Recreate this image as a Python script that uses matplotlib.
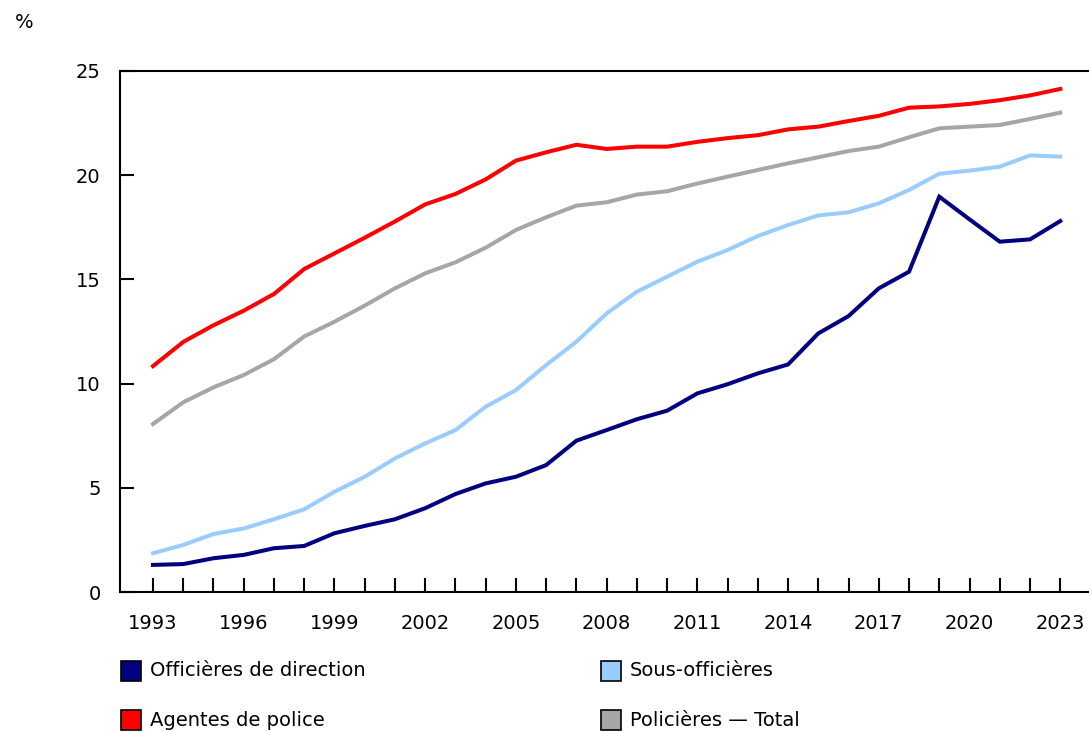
import matplotlib
matplotlib.use("Agg")
import matplotlib.pyplot as plt
from matplotlib.patches import Rectangle

years = list(range(1993, 2024))

officieres = [1.30, 1.34, 1.62, 1.78, 2.10, 2.21, 2.82, 3.17, 3.49, 4.02,
              4.70, 5.21, 5.53, 6.09, 7.26, 7.77, 8.29, 8.70, 9.53, 9.97,
              10.49, 10.92, 12.41, 13.24, 14.57, 15.37, 18.97, 17.88, 16.81, 16.92, 17.80]
sous_officieres = [1.86, 2.26, 2.78, 3.05, 3.49, 3.97, 4.81, 5.53, 6.41, 7.13,
                   7.77, 8.89, 9.69, 10.89, 12.01, 13.37, 14.41, 15.13, 15.85, 16.41,
                   17.08, 17.61, 18.07, 18.22, 18.65, 19.29, 20.07, 20.22, 20.41, 20.95, 20.89]
agentes = [10.84, 12.00, 12.80, 13.50, 14.30, 15.50, 16.25, 17.00, 17.78, 18.60,
           19.10, 19.80, 20.70, 21.10, 21.46, 21.26, 21.37, 21.37, 21.60, 21.78,
           21.92, 22.20, 22.33, 22.60, 22.85, 23.24, 23.30, 23.42, 23.60, 23.83, 24.14]
total = [8.06, 9.10, 9.82, 10.41, 11.17, 12.26, 12.97, 13.74, 14.57, 15.29,
         15.82, 16.52, 17.37, 17.98, 18.54, 18.70, 19.07, 19.23, 19.60, 19.93,
         20.25, 20.57, 20.86, 21.16, 21.37, 21.82, 22.25, 22.33, 22.41, 22.70, 23.00]

series_names = ["Officières de direction", "Sous-officières",
                "Agentes de police", "Policières — Total"]
series_values = [officieres, sous_officieres, agentes, total]
colors = ["#000080", "#99CCFF", "#FF0000", "#A6A6A6"]

y_ticks = [0, 5, 10, 15, 20, 25]
x_label_years = list(range(1993, 2024, 3))

plt.rcParams['font.family'] = ['DejaVu Sans']
FS = 14

fig = plt.figure(figsize=(10.89, 7.32), dpi=100)
ax = fig.add_axes([120/1089, 1-592/732, 1-120/1089, (592-71)/732])

for name, vals, c in zip(series_names, series_values, colors):
    ax.plot(years, vals, color=c, lw=2.9, solid_joinstyle='miter', label=name)

ax.set_xlim(1991.91, 2023.95)
ax.set_ylim(0, 25)
ax.set_yticks(y_ticks)
ax.set_yticklabels([str(v) for v in y_ticks])
ax.set_xticks(years)
ax.set_xticklabels([str(y) if y in x_label_years else "" for y in years])

ax.spines['right'].set_visible(False)
for s in ['left', 'top', 'bottom']:
    ax.spines[s].set_linewidth(1.5)
    ax.spines[s].set_color('black')

ax.tick_params(axis='both', direction='in', length=10, width=1.5, colors='black',
               labelsize=FS, labelcolor='black')
ax.tick_params(axis='x', pad=15.5)
ax.tick_params(axis='y', pad=14)

fig.text(24/1089, 1-23/732, "%", fontsize=FS, ha='center', va='center', color='black')

# legend, manual
pos = [(121, 671), (601, 671), (121, 720), (601, 720)]
for (px, py), name, c in zip(pos, series_names, colors):
    w, h = 20, 20
    fig.patches.append(Rectangle((px/1089, 1-(py+h/2)/732), w/1089, h/732,
                                 transform=fig.transFigure, facecolor=c,
                                 edgecolor='black', lw=1.2))
    fig.text((px+29)/1089, 1-py/732, name, fontsize=FS, ha='left', va='center',
             color='black')

fig.savefig("out.png", dpi=100)
